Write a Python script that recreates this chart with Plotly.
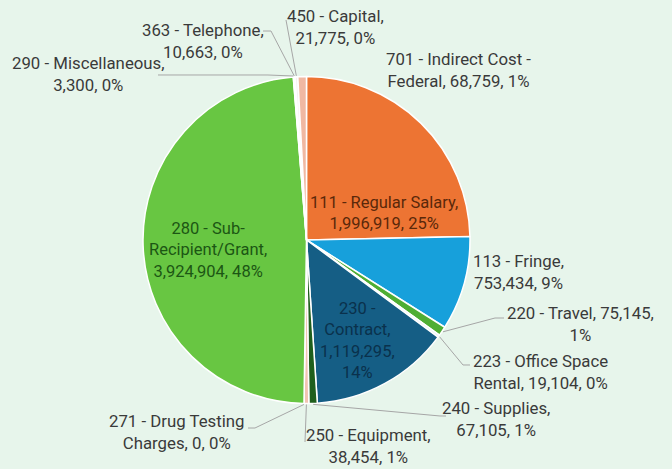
import math
import textwrap
import plotly.graph_objects as go

# ---------------- data ----------------
codes = ["111", "113", "220", "223", "230", "240", "250", "271", "280", "290", "363", "450", "701"]
names = ["Regular Salary", "Fringe", "Travel", "Office Space Rental", "Contract", "Supplies",
         "Equipment", "Drug Testing Charges", "Sub-Recipient/Grant", "Miscellaneous",
         "Telephone", "Capital", "Indirect Cost - Federal"]
values = [1996919, 753434, 75145, 19104, 1119295, 67105, 38454, 0, 3924904, 3300, 10663, 21775, 68759]
percent_labels = [25, 9, 1, 0, 14, 1, 1, 0, 48, 0, 0, 0, 1]

# ---------------- styling ----------------
slice_colors = ["#ED7433", "#17A0DB", "#4FAE34", "#E4F1F6", "#155E85", "#1F5F1C",
                "#F2C4B2", "#F2C4B2", "#68C642", "#F0E6E0", "#EFE9E6", "#F6F2F0", "#F0B8A2"]
BG = "#E7F5EB"
TEXT = "#3A3A3A"
FONT = "Roboto"

W, H = 672, 469
CX, CY, R = 306.5, 240.0, 163.5

FS = 16.8
FS_IN = 16.5
# label placement: wrap width (chars), centre in px, text colour, font size
label_layout = {
    "111": dict(wrap=21, pos=(384, 213), color="#5A280A", size=FS_IN),
    "113": dict(wrap=13, pos=(518, 272), color=TEXT, size=FS),
    "220": dict(wrap=21, pos=(580, 324), color=TEXT, size=FS),
    "223": dict(wrap=18, pos=(540, 372), color=TEXT, size=FS),
    "230": dict(wrap=10, pos=(357, 340), color="#0A314C", size=FS_IN),
    "240": dict(wrap=15, pos=(496, 419), color=TEXT, size=FS),
    "250": dict(wrap=16, pos=(368, 446), color=TEXT, size=FS),
    "271": dict(wrap=18, pos=(177, 432), color=TEXT, size=FS),
    "280": dict(wrap=16, pos=(208, 250), color="#1C5614", size=FS_IN),
    "290": dict(wrap=20, pos=(88, 74), color=TEXT, size=FS),
    "363": dict(wrap=16, pos=(203, 41), color=TEXT, size=FS),
    "450": dict(wrap=14, pos=(335, 27), color=TEXT, size=FS),
    "701": dict(wrap=21, pos=(458, 70), color=TEXT, size=FS),
}

# leader-line points near the label (px); the end on the pie edge is computed
leaders = {
    "290": [(158, 75), (268, 75)],
    "363": [(263, 31), (271, 31)],
    "450": [(286, 20)],
    "220": [(504, 318), (495, 318)],
    "223": [(470, 365), (463, 365)],
    "240": [(446, 416), (440, 416)],
    "250": [(305, 442)],
    "271": [(248, 428), (255, 428)],
}

total = sum(values)
mid_angles = {}
cum = 0
for c, v in zip(codes, values):
    mid_angles[c] = (cum + v / 2) / total * 360.0
    cum += v


def px2paper(x, y):
    return x / W, 1 - y / H


fig = go.Figure(go.Pie(
    labels=[f"{c} - {n}" for c, n in zip(codes, names)],
    values=values,
    sort=False,
    direction="clockwise",
    rotation=0,
    textinfo="none",
    hoverinfo="label+value+percent",
    marker=dict(colors=slice_colors, line=dict(color="white", width=1.5)),
    domain=dict(x=[(CX - R) / W, (CX + R) / W], y=[1 - (CY + R) / H, 1 - (CY - R) / H]),
    showlegend=False,
))

annotations = []
for c, n, v, p in zip(codes, names, values, percent_labels):
    full = f"{c} - {n}, {v:,}, {p}%"
    lay = label_layout[c]
    lines = textwrap.wrap(full, width=lay["wrap"], break_on_hyphens=True)
    x, y = px2paper(*lay["pos"])
    annotations.append(dict(
        text="<br>".join(lines), x=x, y=y, xref="paper", yref="paper",
        xanchor="center", yanchor="middle", align="center", showarrow=False,
        font=dict(family=FONT, size=lay["size"], color=lay["color"]),
    ))

shapes = []
for c, pts in leaders.items():
    a = math.radians(mid_angles[c])
    ex, ey = CX + (R + 1) * math.sin(a), CY - (R + 1) * math.cos(a)
    all_pts = pts + [(ex, ey)]
    path = ""
    for i, (px, py) in enumerate(all_pts):
        qx, qy = px2paper(px, py)
        path += ("M" if i == 0 else " L") + f"{qx:.5f},{qy:.5f}"
    shapes.append(dict(type="path", path=path, xref="paper", yref="paper",
                       line=dict(color="#A6A6A6", width=1)))

fig.update_layout(
    width=W, height=H,
    margin=dict(l=0, r=0, t=0, b=0),
    paper_bgcolor=BG, plot_bgcolor=BG,
    annotations=annotations, shapes=shapes,
    font=dict(family=FONT, color=TEXT),
)

fig.write_html(
    "out.html",
    config={"displayModeBar": False},
    post_script="document.body.style.margin='0px';document.body.style.overflow='hidden';",
)
